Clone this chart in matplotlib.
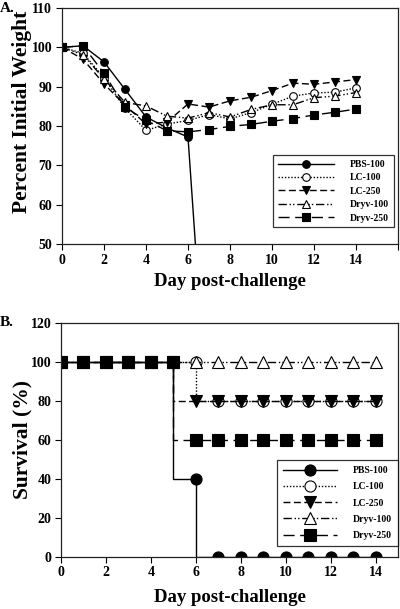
import matplotlib
matplotlib.use("Agg")
import matplotlib.pyplot as plt
import numpy as np

plt.rcParams['font.family'] = ['Liberation Serif', 'DejaVu Serif']
plt.rcParams['font.weight'] = 'bold'

series = ["PBS-100", "LC-100", "LC-250", "Dryv-100", "Dryv-250"]

# Panel A: weight
days_pbs = [0, 1, 2, 3, 4, 5, 6, 7]
w_pbs = [100, 100.4, 96.3, 89.3, 82.3, 79.5, 77.2, 0]
days = list(range(15))
w_lc100 = [100, 98.5, 92.3, 84.5, 78.9, 80.5, 81.4, 82.9, 81.8, 83.4, 85.5, 87.6, 88.4, 88.6, 89.7]
w_lc250 = [100, 97.0, 90.7, 85.3, 80.5, 81.0, 85.6, 84.8, 86.4, 87.3, 89.0, 90.9, 90.6, 91.2, 91.8]
w_dryv100 = [100, 98.1, 92.0, 86.0, 85.1, 82.5, 82.0, 83.4, 82.3, 84.2, 85.4, 85.4, 87.2, 87.6, 88.5]
w_dryv250 = [100, 100.4, 93.4, 84.8, 81.4, 78.8, 78.5, 79.1, 79.9, 80.4, 81.2, 81.9, 82.8, 83.5, 84.3]

# Panel B: survival
s_pbs = [100, 100, 100, 100, 100, 100, 40, 0, 0, 0, 0, 0, 0, 0, 0]
s_lc100 = [100, 100, 100, 100, 100, 100, 100, 80, 80, 80, 80, 80, 80, 80, 80]
s_lc250 = [100, 100, 100, 100, 100, 100, 80, 80, 80, 80, 80, 80, 80, 80, 80]
s_dryv100 = [100] * 15
s_dryv250 = [100, 100, 100, 100, 100, 100, 60, 60, 60, 60, 60, 60, 60, 60, 60]

styles = [
    dict(ls='-', marker='o', mfc='black', mec='black'),
    dict(ls=(0, (1, 1.3)), marker='o', mfc='white', mec='black'),
    dict(ls=(0, (5, 2.5)), marker='v', mfc='black', mec='black'),
    dict(ls=(0, (6, 2, 1, 1.5, 1, 2)), marker='^', mfc='white', mec='black'),
    dict(ls=(0, (8, 4)), marker='s', mfc='black', mec='black'),
]

fig = plt.figure(figsize=(4.0, 6.09), dpi=100)
W, H = 400, 609
axA = fig.add_axes([62 / W, 1 - 244 / H, (398 - 62) / W, (244 - 8) / H])
axB = fig.add_axes([61 / W, 1 - 556.7 / H, (398 - 61) / W, (556.7 - 322.7) / H])

lw = 1.0
dataA = [(days_pbs, w_pbs), (days, w_lc100), (days, w_lc250), (days, w_dryv100), (days, w_dryv250)]
for (x, y), name, st in zip(dataA, series, styles):
    axA.plot(x, y, color='black', lw=lw, ms=5.5, mew=0.8, label=name, **st)

dataB = [s_pbs, s_lc100, s_lc250, s_dryv100, s_dryv250]
for y, name, st in zip(dataB, series, styles):
    axB.plot(days, y, color='black', lw=lw, ms=8, mew=0.8, drawstyle='steps-pre',
             label=name, **st)

tick_font = dict(fontsize=10, fontweight='bold')

axA.set_xlim(0, 16)
axA.set_ylim(50, 110)
axA.set_xticks(range(0, 17, 2))
axA.set_xticklabels([str(v) for v in range(0, 15, 2)] + [''], **tick_font)
axA.set_yticks(range(50, 111, 10))
axA.set_yticklabels([str(v) for v in range(50, 111, 10)], **tick_font)
axA.set_xlabel('Day post-challenge', fontsize=13.5, fontweight='bold')
axA.set_ylabel('Percent Initial Weight', fontsize=15.5, fontweight='bold')

axB.set_xlim(0, 15)
axB.set_ylim(0, 120)
axB.set_xticks(range(0, 15, 2))
axB.set_xticklabels([str(v) for v in range(0, 15, 2)], **tick_font)
axB.set_yticks(range(0, 121, 20))
axB.set_yticklabels([str(v) for v in range(0, 121, 20)], **tick_font)
axB.set_xlabel('Day post-challenge', fontsize=13.5, fontweight='bold')
axB.set_ylabel('Survival (%)', fontsize=15.5, fontweight='bold')

# label positions (in pixels converted to axes fractions)
axA.xaxis.set_label_coords(0.5, -(282 - 244) / (244 - 8), transform=axA.transAxes)
axA.xaxis.label.set_va('center')
axA.yaxis.set_label_coords(-(62 - 22) / (398 - 62), (244 - 112) / (244 - 8), transform=axA.transAxes)
axA.yaxis.label.set_va('center')
axB.xaxis.set_label_coords(0.5, -(598 - 556.7) / (556.7 - 322.7), transform=axB.transAxes)
axB.xaxis.label.set_va('center')
axB.yaxis.set_label_coords(-(61 - 22) / (398 - 61), 0.5, transform=axB.transAxes)
axB.yaxis.label.set_va('center')

for ax in (axA, axB):
    ax.tick_params(direction='out', length=4, width=0.8, pad=3)
    for sp in ax.spines.values():
        sp.set_linewidth(0.9)
        sp.set_color('#222222')

legA = axA.legend(loc='lower right', bbox_to_anchor=(0.988, 0.07), frameon=True, fancybox=False,
                  edgecolor='black', fontsize=7, handlelength=5.8, handletextpad=1.6,
                  borderpad=0.5, labelspacing=0.45, borderaxespad=0)
legA.get_frame().set_linewidth(0.9)
for t in legA.get_texts():
    t.set_fontweight('bold')

legB = axB.legend(loc='lower right', bbox_to_anchor=(1.0, 0.046), frameon=True, fancybox=False,
                  edgecolor='black', fontsize=7, handlelength=5.6, handletextpad=1.6,
                  borderpad=0.6, labelspacing=0.75, borderaxespad=0)
legB.get_frame().set_linewidth(0.9)
for t in legB.get_texts():
    t.set_fontweight('bold')

fig.text(0.0, 1 - 8 / H, 'A.', fontsize=11, fontweight='bold', va='center', ha='left')
fig.text(0.0, 1 - 322.7 / H, 'B.', fontsize=11, fontweight='bold', va='center', ha='left')

fig.savefig('out.png', dpi=100)
